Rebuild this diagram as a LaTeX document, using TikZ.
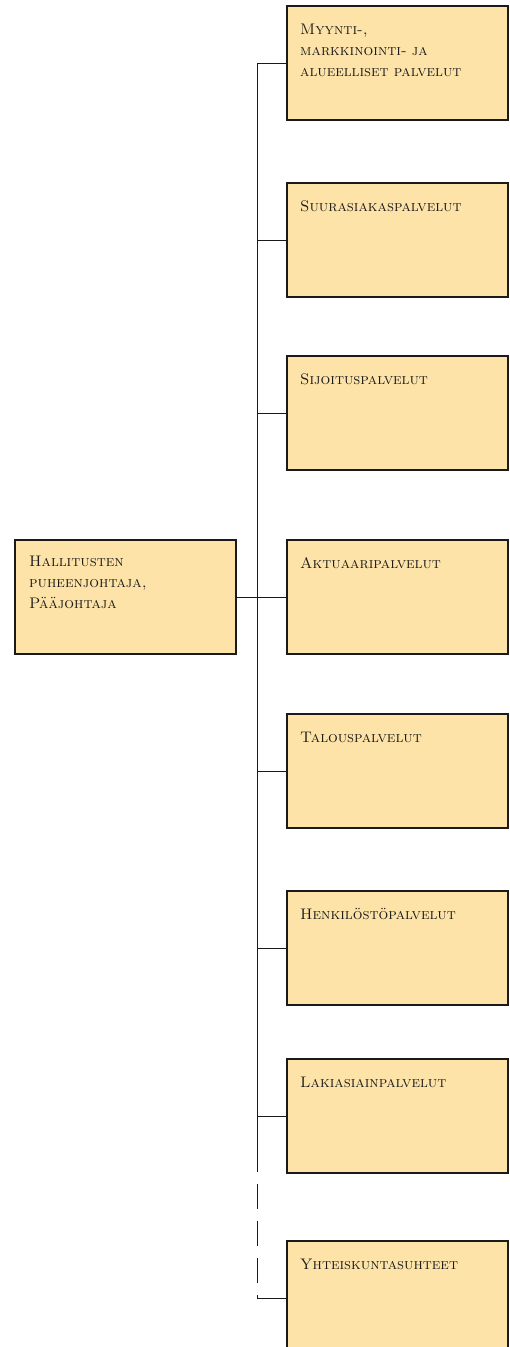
\documentclass[tikz,border=0pt]{standalone}
\usepackage{tikz}
\usetikzlibrary{positioning}
\definecolor{boxfill}{HTML}{FDE3A8}
\definecolor{ink}{HTML}{1A1A1A}
\tikzset{
  unit/.style={draw=ink, fill=boxfill, line width=2pt, minimum width=221pt, minimum height=114pt, inner sep=0pt, anchor=north west},
  lab/.style={anchor=base west, inner sep=0pt, text width=200pt, align=left, font=\fontsize{15.3}{21}\selectfont\scshape, text=ink},
  link/.style={draw=ink, line width=0.7pt},
  gap/.style={link, dash pattern=on 25pt off 12pt},
}

\begin{document}
\begin{tikzpicture}[x=1pt,y=-1pt]
  \clip (0,0) rectangle (510,1347);
  \coordinate (tk) at (257,0);
  \coordinate (brk) at (257,1147);
  % chief
  \node[unit] (chief) at (14,539) {};
  \node[lab] (tchief) at ([xshift=15pt,yshift=-27pt]chief.north west) {Hallitusten\\puheenjohtaja,\\Pääjohtaja};
  % units
  \node[unit] (u1) at (286,5) {};
  \node[unit] (u2) at (286,182) {};
  \node[unit] (u3) at (286,355) {};
  \node[unit] (u4) at (286,539) {};
  \node[unit] (u5) at (286,713) {};
  \node[unit] (u6) at (286,890) {};
  \node[unit] (u7) at (286,1058) {};
  \node[unit] (u8) at (286,1240) {};
  \node[lab] (t1) at ([xshift=14pt,yshift=-29pt]u1.north west) {Myynti-,\\markkinointi- ja\\alueelliset palvelut};
  \node[lab] (t2) at ([xshift=14pt,yshift=-29pt]u2.north west) {Suurasiakaspalvelut};
  \node[lab] (t3) at ([xshift=14pt,yshift=-29pt]u3.north west) {Sijoituspalvelut};
  \node[lab] (t4) at ([xshift=14pt,yshift=-29pt]u4.north west) {Aktuaaripalvelut};
  \node[lab] (t5) at ([xshift=14pt,yshift=-29pt]u5.north west) {Talouspalvelut};
  \node[lab] (t6) at ([xshift=14pt,yshift=-29pt]u6.north west) {Henkilöstöpalvelut};
  \node[lab] (t7) at ([xshift=14pt,yshift=-29pt]u7.north west) {Lakiasiainpalvelut};
  \node[lab] (t8) at ([xshift=14pt,yshift=-29pt]u8.north west) {Yhteiskuntasuhteet};
  % connectors
  \draw[link] (u1.west) -- (u1.west -| tk) -- (brk);
  \draw[gap] (brk) -- (u8.west -| tk);
  \draw[link] (u8.west -| tk) -- (u8.west);
  \foreach \i in {2,...,7}
    \draw[link] (u\i.west -| tk) -- (u\i.west);
  \draw[link] (chief.east) -- (u4.west);
\end{tikzpicture}
\end{document}
